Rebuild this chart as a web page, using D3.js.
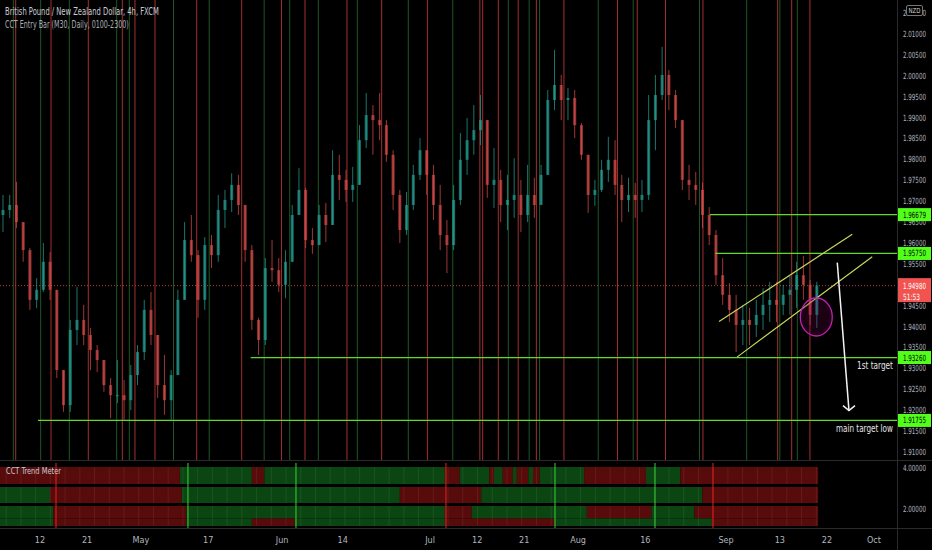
<!DOCTYPE html>
<html><head><meta charset="utf-8">
<script src="https://cdn.jsdelivr.net/npm/d3@7"></script>
<style>
html,body{margin:0;padding:0;background:#000;}
svg{display:block;}
text{font-family:"Liberation Sans Narrow","DejaVu Sans Condensed","Liberation Sans",sans-serif;}
</style></head><body>
<svg id="c" width="932" height="550"></svg>
<script>
// ---------- DATA ----------
const title1 = "British Pound / New Zealand Dollar, 4h, FXCM";
const title2 = "CCT Entry Bar (M30, Daily, 0100-2300)";
const trendTitle = "CCT Trend Meter";
const currency = "NZD";
// trading-day index 0 = 12 Apr; one candle per trading day
const firstDay = -6;
const firstOpen = 1.9667;
const highs = [
 1.9715,1.9715,1.9746,1.9643,1.9588,1.9516,            // -6..-1
 1.9600,1.9578,1.9488,1.9296,1.9416,1.9495,1.9452,1.9397,1.9356,1.9320, // 0..9
 1.9277,1.9320,1.9272,1.9308,1.9356,1.9464,1.9483,1.9380,1.9332,1.9296, // 10..19
 1.9488,1.9650,1.9667,1.9583,1.9614,1.9619,1.9715,1.9727,1.9767,1.9763, // 20..29
 1.9691,1.9595,1.9421,1.9564,1.9607,1.9564,1.9583,1.9691,1.9779,1.9732, // 30..39
 1.9636,1.9691,1.9696,1.9822,1.9811,1.9775,1.9782,1.9882,1.9959,1.9930, // 40..49
 1.9959,1.9894,1.9822,1.9727,1.9722,1.9787,1.9851,1.9822,1.9787,1.9739, // 50..59
 1.9655,1.9739,1.9863,1.9899,1.9930,1.9954,1.9894,1.9827,1.9775,1.9763, // 60..69
 1.9803,1.9751,1.9787,1.9756,1.9787,1.9966,2.0062,2.0002,1.9971,1.9966, // 70..79
 1.9887,1.9811,1.9751,1.9799,1.9854,1.9846,1.9763,1.9756,1.9744,1.9751, // 80..89
 1.9954,2.0002,2.0069,2.0014,1.9966,1.9882,1.9787,1.9770,1.9744,1.9686, // 90..99
 1.9631,1.9564,1.9504,1.9476,1.9452,1.9445,1.9464,1.9492,1.9507,1.9507, // 100..109
 1.9500,1.9521,1.9555,1.9569,1.9512,1.9507                              // 110..115
];
const lows = [
 1.9626,1.9660,1.9636,1.9555,1.9440,1.9444,
 1.9483,1.9464,1.9277,1.9196,1.9196,1.9356,1.9356,1.9296,1.9291,1.9244,
 1.9181,1.9217,1.9177,1.9200,1.9260,1.9320,1.9356,1.9229,1.9189,1.9177,
 1.9284,1.9464,1.9555,1.9421,1.9440,1.9540,1.9555,1.9636,1.9674,1.9667,
 1.9555,1.9392,1.9332,1.9356,1.9507,1.9483,1.9468,1.9555,1.9691,1.9588,
 1.9574,1.9595,1.9602,1.9643,1.9703,1.9698,1.9698,1.9739,1.9827,1.9811,
 1.9846,1.9794,1.9679,1.9600,1.9619,1.9679,1.9751,1.9715,1.9655,1.9583,
 1.9528,1.9583,1.9691,1.9763,1.9811,1.9834,1.9708,1.9684,1.9650,1.9631,
 1.9660,1.9626,1.9650,1.9660,1.9691,1.9763,1.9918,1.9894,1.9894,1.9851,
 1.9799,1.9672,1.9689,1.9722,1.9746,1.9715,1.9650,1.9674,1.9660,1.9674,
 1.9703,1.9822,1.9942,1.9918,1.9875,1.9727,1.9703,1.9691,1.9636,1.9595,
 1.9500,1.9452,1.9411,1.9339,1.9356,1.9356,1.9375,1.9392,1.9411,1.9411,
 1.9428,1.9428,1.9445,1.9464,1.9404,1.9397
];
const closes = [
 1.9679,1.9691,1.9650,1.9583,1.9464,1.9488,
 1.9555,1.9488,1.9296,1.9212,1.9392,1.9416,1.9380,1.9344,1.9320,1.9260,
 1.9236,1.9236,1.9224,1.9284,1.9339,1.9440,1.9380,1.9260,1.9224,1.9284,
 1.9464,1.9607,1.9571,1.9464,1.9595,1.9571,1.9679,1.9703,1.9739,1.9691,
 1.9583,1.9416,1.9368,1.9540,1.9535,1.9500,1.9555,1.9667,1.9727,1.9607,
 1.9595,1.9667,1.9643,1.9763,1.9751,1.9727,1.9739,1.9846,1.9906,1.9894,
 1.9882,1.9811,1.9715,1.9631,1.9691,1.9763,1.9822,1.9763,1.9691,1.9619,
 1.9595,1.9703,1.9799,1.9846,1.9870,1.9894,1.9739,1.9751,1.9691,1.9703,
 1.9715,1.9667,1.9715,1.9691,1.9763,1.9942,1.9978,1.9942,1.9947,1.9882,
 1.9811,1.9715,1.9727,1.9775,1.9799,1.9739,1.9703,1.9715,1.9703,1.9715,
 1.9894,1.9954,2.0002,1.9954,1.9894,1.9751,1.9739,1.9727,1.9667,1.9619,
 1.9523,1.9476,1.9440,1.9404,1.9416,1.9404,1.9428,1.9452,1.9464,1.9452,
 1.9476,1.9488,1.9523,1.9500,1.9428,1.9498
];
const timeTicks = [
 {d:0,t:"12"},{d:7,t:"21"},{d:15,t:"May"},{d:25,t:"17"},{d:36,t:"Jun"},
 {d:45,t:"14"},{d:58,t:"Jul"},{d:65,t:"12"},{d:72,t:"21"},{d:80,t:"Aug"},
 {d:90,t:"16"},{d:102,t:"Sep"},{d:110,t:"13"},{d:117,t:"22"},{d:124,t:"Oct"}
];
const priceTicks = ["1.91000","1.91500","1.92000","1.92500","1.93000","1.93500","1.94000",
 "1.94500","1.95000","1.95500","1.96000","1.96500","1.97000","1.97500","1.98000","1.98500",
 "1.99000","1.99500","2.00000","2.00500","2.01000","2.01500"];
// CCT Entry Bar signal bars (trading-day index)
const entryRed = [-3.61,1.64,7.18,12.24,14.12,17.1,23.3,29.99,35.9,39.4,45.64,50.8,57.6,65.4,65.82,
 68.14,71.1,73.8,77.9,85.86,88.8,93.0,98.57,109.68,111.76,114.48];
const entryGreen = [-3.97,0.1,4.36,11.4,13.28,19.85,25.16,33.33,37.13,41.38,47.18,54.76,61.37,69.63,
 72.73,74.28,83.0,88.2,98.05,105.07,110.0,112.6];
// horizontal levels: price, starting day
const levels = [
 {p:1.96679, from:99.6, label:"1.96679"},
 {p:1.95750, from:100.4, label:"1.95750"},
 {p:1.93260, from:31.33, label:"1.93260"},
 {p:1.91755, from:-0.3, label:"1.91755"}
];
const lastPrice = 1.94980, lastLabel = "1.94980", countdown = "51:53";
const channelUpper = [{d:100.96,p:1.9412},{d:120.77,p:1.9621}];
const channelLower = [{d:103.63,p:1.9327},{d:123.74,p:1.9567}];
const arrowPts = [{d:118.54,p:1.9553},{d:120.28,p:1.9199}];
const circleCenter = {d:115.42,p:1.9423};
const notes = [{t:"1st target", p:1.93260, w:36},{t:"main target low", p:1.91755, w:57}];
// CCT Trend Meter rows: [startDay, endDay, state]
const trendRow1 = [[-6,20.8,"r"],[20.8,31.5,"g"],[31.5,33.35,"r"],[33.35,60.2,"g"],[60.2,62.4,"r"],
 [62.4,66.8,"g"],[66.8,67.5,"r"],[67.5,68.8,"g"],[68.8,70.3,"r"],[70.3,70.9,"g"],[70.9,72.6,"r"],
 [72.6,73.3,"g"],[73.3,74.3,"r"],[74.3,80.9,"g"],[80.9,90.1,"r"],[90.1,95.2,"g"],[95.2,115.7,"r"]];
const trendRow2 = [[-6,1.49,"g"],[1.49,21.07,"r"],[21.07,53.5,"g"],[53.5,65.6,"r"],[65.6,98.5,"g"],[98.5,115.7,"r"]];
const trendRow3a = [[-6,1.98,"g"],[1.98,21.8,"r"],[21.8,60.2,"g"],[60.2,64.2,"r"],[64.2,81.3,"g"],
 [81.3,90.9,"r"],[90.9,97.3,"g"],[97.3,115.7,"r"]];
const trendRow3b = [[-6,1.98,"g"],[1.98,21.8,"r"],[21.8,31.5,"g"],[31.5,37.9,"r"],[37.9,60.2,"g"],
 [60.2,76.5,"r"],[76.5,99.9,"g"],[99.9,115.7,"r"]];
const trendSignals = [{d:2.38,s:"r"},{d:22.0,s:"g"},{d:38.06,s:"g"},{d:60.36,s:"r"},{d:76.57,s:"g"},{d:91.44,s:"g"},{d:100.06,s:"r"}];
const trendTicks = [{v:4,t:"4.00000"},{v:2,t:"2.00000"}];

// ---------- LAYOUT ----------
const W = 932, H = 550, plotR = 897, mainB = 460, indT = 461, indB = 528;
const svg = d3.select("#c");
svg.append("rect").attr("width",W).attr("height",H).attr("fill","#000");
const x = d3.scaleLinear().domain([-5.947, 127.42]).range([0, plotR]);
const y = d3.scaleLinear().domain([1.91, 2.01]).range([452, 34]);
const yi = d3.scaleLinear().domain([2, 4]).range([509, 468]);

// text of a fixed on-screen width (horizontally condensed like the original)
function fitText(parent, tx, ty, str, width, size, fill){
  const t = parent.append("text").attr("x",0).attr("y",0).attr("dy","0.35em")
    .attr("font-size",size).attr("fill",fill).text(str);
  const nat = t.node().getComputedTextLength() || width;
  t.attr("transform",`translate(${tx},${ty}) scale(${(width/nat).toFixed(4)},1)`);
  return t;
}

const defs = svg.append("defs");
defs.append("clipPath").attr("id","mainClip").append("rect").attr("x",0).attr("y",0).attr("width",plotR).attr("height",mainB);

const main = svg.append("g").attr("clip-path","url(#mainClip)");

// entry bars
main.selectAll(".eg").data(entryGreen).enter().append("line")
 .attr("x1",d=>x(d)).attr("x2",d=>x(d)).attr("y1",0).attr("y2",mainB)
 .attr("stroke","#1e5626").attr("stroke-width",1);
main.selectAll(".er").data(entryRed).enter().append("line")
 .attr("x1",d=>x(d)).attr("x2",d=>x(d)).attr("y1",0).attr("y2",mainB)
 .attr("stroke","#a3302e").attr("stroke-width",1);

// current price dotted line
main.append("line").attr("x1",0).attr("x2",plotR).attr("y1",y(lastPrice)).attr("y2",y(lastPrice))
 .attr("stroke","#b33a38").attr("stroke-width",1).attr("stroke-dasharray","1,2");

// candles
const candles = closes.map((c,i)=>{
  const o = i===0 ? firstOpen : closes[i-1];
  return {d:firstDay+i, o, c, h:Math.max(highs[i],o,c), l:Math.min(lows[i],o,c)};
});
const step = x(1)-x(0), bw = step*0.45;
const upC = "#26a69a", dnC = "#e0504e";
const cg = main.append("g");
cg.selectAll("line").data(candles).enter().append("line")
 .attr("x1",d=>x(d.d+0.5)).attr("x2",d=>x(d.d+0.5))
 .attr("y1",d=>y(d.h)).attr("y2",d=>y(d.l))
 .attr("stroke",d=>d.c>=d.o?upC:dnC).attr("stroke-opacity",0.7).attr("stroke-width",1);
cg.selectAll("rect").data(candles).enter().append("rect")
 .attr("x",d=>x(d.d+0.5)-bw/2).attr("width",bw)
 .attr("y",d=>y(Math.max(d.o,d.c)))
 .attr("height",d=>Math.max(1,Math.abs(y(d.o)-y(d.c))))
 .attr("fill",d=>d.c>=d.o?upC:dnC).attr("fill-opacity",0.65);

// levels
main.selectAll(".lvl").data(levels).enter().append("line")
 .attr("x1",d=>x(d.from)).attr("x2",plotR).attr("y1",d=>y(d.p)).attr("y2",d=>y(d.p))
 .attr("stroke","#62d92a").attr("stroke-width",1.2);

// channel
const ln = d3.line().x(d=>x(d.d)).y(d=>y(d.p));
[channelUpper, channelLower].forEach(c=>{
  main.append("path").attr("d",ln(c)).attr("fill","none").attr("stroke","#c9d65a").attr("stroke-width",1.2);
});
// circle
main.append("ellipse").attr("cx",x(circleCenter.d)).attr("cy",y(circleCenter.p)).attr("rx",16).attr("ry",19)
 .attr("fill","rgba(110,0,80,0.25)").attr("stroke","#c21fb5").attr("stroke-width",1.3);
// arrow
main.append("path").attr("d",ln(arrowPts)).attr("stroke","#f2f2f2").attr("stroke-width",1.5).attr("fill","none");
const tip = arrowPts[1], tx = x(tip.d), ty = y(tip.p);
main.append("path").attr("d",`M${tx-6},${ty-5}L${tx},${ty}L${tx+6},${ty-5}`)
 .attr("stroke","#f2f2f2").attr("stroke-width",1.5).attr("fill","none");
// notes
notes.forEach(n=>fitText(main, 893-n.w, y(n.p)+8, n.t, n.w, 10, "#e6e6e6"));

// titles
fitText(svg, 5, 11.5, title1, 154, 10, "#c9ccd4");
fitText(svg, 5, 24, title2, 124, 10, "#a9acb4");

// ---------- INDICATOR ----------
const ind = svg.append("g");
const rowsLayout = [
 {data:trendRow1, y0:467, y1:484},
 {data:trendRow2, y0:487, y1:503},
 {data:trendRow3a, y0:506, y1:518.5},
 {data:trendRow3b, y0:518.5, y1:526}
];
const stateColor = {r:"#580b0b", g:"#0b4612"};
rowsLayout.forEach(r=>{
  ind.selectAll(null).data(r.data).enter().append("rect")
   .attr("x",d=>x(d[0])).attr("width",d=>x(d[1])-x(d[0]))
   .attr("y",r.y0).attr("height",r.y1-r.y0)
   .attr("fill",d=>stateColor[d[2]]);
});
// faint stripes inside bands
const stripes = d3.range(-7.22, 115.7, 2.19);
[[467,484],[487,503],[506,526]].forEach(b=>{
  ind.selectAll(null).data(stripes).enter().append("line")
   .attr("x1",d=>x(d)).attr("x2",d=>x(d)).attr("y1",b[0]).attr("y2",b[1])
   .attr("stroke","rgba(255,255,255,0.07)").attr("stroke-width",1);
});
ind.selectAll(".sig").data(trendSignals).enter().append("line")
 .attr("x1",d=>x(d.d)).attr("x2",d=>x(d.d)).attr("y1",indT+2).attr("y2",indB)
 .attr("stroke",d=>d.s==="r"?"#e3201e":"#3ccf3a").attr("stroke-width",1);
fitText(ind, 6, 471, trendTitle, 55, 9, "#c9ccd4");

// separators
svg.append("line").attr("x1",0).attr("x2",W).attr("y1",mainB+0.5).attr("y2",mainB+0.5).attr("stroke","#2a2a2a");
svg.append("line").attr("x1",0).attr("x2",W).attr("y1",indB+0.5).attr("y2",indB+0.5).attr("stroke","#2a2a2a");
svg.append("line").attr("x1",plotR+0.5).attr("x2",plotR+0.5).attr("y1",0).attr("y2",H).attr("stroke","#2a2a2a");

// ---------- AXES ----------
const axisFill = "#b2b5be", LW = 23;
const hidden = new Set(["1.95000"]); // fully covered by the last-price tag
priceTicks.filter(t=>!hidden.has(t)).forEach(t=>fitText(svg, 903, y(+t), t, LW, 8.5, axisFill));
trendTicks.forEach(t=>fitText(svg, 903, yi(t.v), t.t, LW, 8.5, axisFill));
svg.selectAll(".xt").data(timeTicks).enter().append("text")
 .attr("x",d=>x(d.d)).attr("y",543).attr("text-anchor","middle").attr("fill",axisFill).attr("font-size",9).text(d=>d.t);

// NZD box
svg.append("rect").attr("x",906.5).attr("y",5.5).attr("width",16).attr("height",10).attr("fill","#000").attr("stroke","#777").attr("rx",1.5);
fitText(svg, 908.5, 10.5, currency, 12, 7, "#d0d0d0");

// level price boxes
levels.forEach(l=>{
  svg.append("rect").attr("x",898).attr("y",y(l.p)-6.5).attr("width",33).attr("height",13).attr("fill","#52ff1a");
  fitText(svg, 903, y(l.p), l.label, LW, 8.5, "#000");
});
// last price box
svg.append("rect").attr("x",898).attr("y",y(lastPrice)-7.5).attr("width",33).attr("height",24).attr("fill","#f05350");
fitText(svg, 903, y(lastPrice), lastLabel, LW, 8.5, "#fff");
fitText(svg, 903, y(lastPrice)+11, countdown, 17, 8.5, "#fff");
</script>
</body></html>
